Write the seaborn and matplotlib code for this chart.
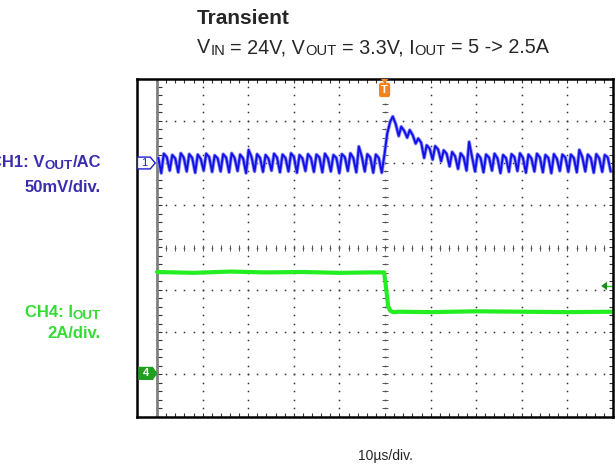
import numpy as np
import pandas as pd
import matplotlib.pyplot as plt
from matplotlib.patches import Polygon
from matplotlib.transforms import IdentityTransform
import seaborn as sns

# CH1 (Vout AC, 50mV/div) - one value per switching cycle, in divisions
period = 0.186
first_cusp = -5.094
ch1_trough = [1.80, 1.76, 1.82, 1.78, 1.80, 1.77, 1.82, 1.79, 1.80, 1.78, 1.81, 1.76, 1.80, 1.79,
              1.82, 1.78, 1.80, 1.77, 1.81, 1.79, 1.78, 1.80, 1.76, 1.81, 1.78, 1.80, 1.77,
              1.77, 2.98, 2.64, 2.60, 2.46, 2.12, 2.08, 2.04, 1.92, 1.86, 1.82,
              1.80, 1.78, 1.82, 1.76, 1.79, 1.81, 1.77, 1.80, 1.78, 1.76, 1.81, 1.79, 1.78, 1.80,
              1.77, 1.79, 1.80]
ch1_peak = [2.20, 2.22, 2.19, 2.23, 2.21, 2.20, 2.22, 2.18, 2.21, 2.23, 2.20, 2.31, 2.21, 2.19,
            2.22, 2.20, 2.23, 2.19, 2.21, 2.20, 2.22, 2.19, 2.21, 2.23, 2.39, 2.21, 2.20,
            2.17, 3.10, 2.86, 2.78, 2.58, 2.42, 2.40, 2.30, 2.26, 2.23, 2.50,
            2.21, 2.20, 2.22, 2.19, 2.21, 2.23, 2.20, 2.22, 2.19, 2.21, 2.20, 2.20, 2.31, 2.20,
            2.21, 2.19, 2.22]
ch1_shoulder = [2.12, 2.14, 2.11, 2.13, 2.12, 2.10, 2.14, 2.11, 2.13, 2.12, 2.11, 2.14, 2.12, 2.10,
                2.13, 2.12, 2.14, 2.11, 2.12, 2.13, 2.11, 2.12, 2.14, 2.12, 2.15, 2.13, 2.12,
                2.70, 2.92, 2.76, 2.66, 2.48, 2.34, 2.32, 2.22, 2.16, 2.14, 2.14,
                2.12, 2.13, 2.11, 2.12, 2.14, 2.12, 2.11, 2.13, 2.12, 2.10, 2.13, 2.12, 2.14, 2.12,
                2.11, 2.13, 2.12]

# CH4 (Iout, 2A/div)
ch4_time = [-5.0, -4.2, -3.4, -2.6, -1.8, -1.0, -0.3, -0.02, 0.02, 0.07, 0.12, 0.18, 0.3,
            1.0, 2.0, 3.0, 4.0, 5.0]
ch4_level = [-0.58, -0.60, -0.57, -0.59, -0.58, -0.60, -0.59, -0.59, -0.93, -1.40, -1.50, -1.53,
             -1.52, -1.53, -1.51, -1.52, -1.53, -1.52]

t, v = [], []
for k in range(len(ch1_trough)):
    t0 = first_cusp + k * period
    t += [t0, t0 + 0.3 * period, t0 + 0.65 * period]
    v += [ch1_trough[k], ch1_peak[k], ch1_shoulder[k]]
ch1 = pd.DataFrame({'t': t, 'v': v})
ch1 = ch1[(ch1.t >= -5) & (ch1.t <= 5)]
ch4 = pd.DataFrame({'t': ch4_time, 'v': ch4_level})

sns.set_style('white')
plt.rcParams['font.family'] = ['Liberation Sans', 'DejaVu Sans']

blue_txt = '#3a2db0'
green_txt = '#33dd33'

fig = plt.figure(figsize=(6.16, 4.66), dpi=100)
ax = fig.add_axes([137 / 616, 1 - 416.5 / 466, 476 / 616, 338 / 466])
ax.set_xlim(-5.44, 5.0)
ax.set_ylim(-4, 4)
ax.set_xticks([])
ax.set_yticks([])
for s in ax.spines.values():
    s.set_color('black')
    s.set_linewidth(1.8)

# graticule
ys = np.arange(-4, 4.01, 0.2)
xs = np.arange(-5, 5.01, 0.2)
for gx in range(-4, 5):
    ax.plot(np.full_like(ys, gx), ys, ls='none', marker='s', ms=1.1, mew=0, color='#333333')
for gy in range(-3, 4):
    ax.plot(xs, np.full_like(xs, gy), ls='none', marker='s', ms=1.1, mew=0, color='#333333')
ax.plot(np.zeros_like(ys), ys, ls='none', marker='_', ms=4, mew=0.7, color='#555555')
ax.plot(xs, np.zeros_like(xs), ls='none', marker='|', ms=4, mew=0.7, color='#555555')
ax.plot(xs, np.full_like(xs, 4), ls='none', marker='|', ms=6, mew=0.8, color='#333333')
ax.plot(xs, np.full_like(xs, -4), ls='none', marker='|', ms=6, mew=0.8, color='#333333')
ax.plot(np.full_like(ys, 5), ys, ls='none', marker='_', ms=6, mew=0.8, color='#333333')
ax.plot(np.full_like(ys, -4.95), ys, ls='none', marker='_', ms=4, mew=0.8, color='#333333')
ax.axvline(-5, color='#808080', lw=2)

# traces
sns.lineplot(data=ch1, x='t', y='v', sort=False, estimator=None, color='#8f8fff', lw=2.6, ax=ax)
sns.lineplot(data=ch1, x='t', y='v', sort=False, estimator=None, color='#1212e4', lw=1.4, ax=ax)
sns.lineplot(data=ch4, x='t', y='v', sort=False, estimator=None, color='#22ee22', lw=3.0, ax=ax)
ax.set_xlabel('')
ax.set_ylabel('')

# channel markers
ax.add_patch(Polygon([(-5.43, 2.14), (-5.15, 2.14), (-5.04, 2.0), (-5.15, 1.86), (-5.43, 1.86)],
                     closed=True, fc='white', ec='#2020d0', lw=1, zorder=5))
ax.text(-5.29, 2.0, '1', color='#2020d0', fontsize=8, ha='center', va='center', zorder=6)
ax.add_patch(Polygon([(-5.40, -2.84), (-5.10, -2.84), (-5.01, -2.98), (-5.10, -3.12), (-5.40, -3.12)],
                     closed=True, fc='#1f9e1f', ec='#1f9e1f', lw=1, zorder=5))
ax.text(-5.25, -2.98, '4', color='white', fontsize=8, fontweight='bold', ha='center', va='center', zorder=6)
ax.add_patch(Polygon([(4.74, -0.91), (4.87, -0.81), (4.87, -1.01)], closed=True,
                     fc='#1a8c1a', ec='none', zorder=5))
ax.plot([4.87, 5.0], [-0.91, -0.91], color='#22cc22', lw=1)
ax.add_patch(Polygon([(-0.10, 4.0), (0.08, 4.0), (-0.01, 3.88)], closed=True,
                     fc='#f58220', ec='none', zorder=5))
ax.text(-0.01, 3.73, 'T', color='white', fontsize=8, fontweight='bold', ha='center', va='center',
        zorder=6, bbox=dict(boxstyle='round,pad=0.2', fc='#f58220', ec='none'))

# texts with subscripts, placed piece by piece in pixel coordinates
renderer = fig.canvas.get_renderer()


def rich_text(x, y, pieces, size, ha='left', **kw):
    # pieces: (text, scale, baseline shift px, gap after px)
    items = []
    total = 0
    for txt, scale, dy, gap in pieces:
        tt = fig.text(0, 0, txt, fontsize=size * scale, transform=IdentityTransform(),
                      va='baseline', **kw)
        w = tt.get_window_extent(renderer).width
        items.append((tt, dy, w, gap))
        total += w + gap
    cx = x - total if ha == 'right' else x
    for tt, dy, w, gap in items:
        tt.set_position((cx, 466 - y + dy))
        cx += w + gap


fig.text(197 / 616, 1 - 18 / 466, 'Transient', fontsize=15, fontweight='bold', va='center')
sp = 5.4
rich_text(197, 53, [('V', 1, 0, 0), ('IN', 0.75, -2, sp), ('= 24V, V', 1, 0, 0),
                    ('OUT', 0.75, -2, sp), ('= 3.3V, I', 1, 0, 0), ('OUT', 0.75, -2, sp),
                    ('= 5 -> 2.5A', 1, 0, 0)], 14.2)
rich_text(101, 167, [('CH1: V', 1, 0, 0), ('OUT', 0.8, -2, 0), ('/AC', 1, 0, 0)], 12,
          ha='right', color=blue_txt, fontweight='bold')
rich_text(101, 192, [('50mV/div.', 1, 0, 0)], 12, ha='right', color=blue_txt, fontweight='bold')
rich_text(101, 317, [('CH4: I', 1, 0, 0), ('OUT', 0.8, -2, 0)], 12,
          ha='right', color=green_txt, fontweight='bold')
rich_text(101, 338, [('2A/div.', 1, 0, 0)], 12, ha='right', color=green_txt, fontweight='bold')
fig.text(385 / 616, 1 - 456 / 466, '10µs/div.', fontsize=10, ha='center', va='center')

fig.savefig('out.png', dpi=100)
